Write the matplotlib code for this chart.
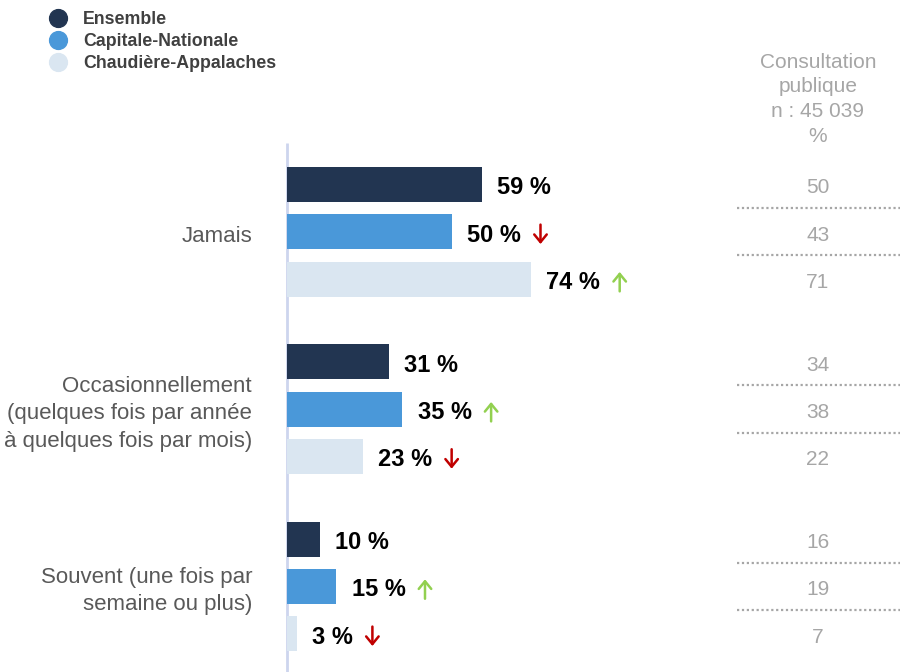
import matplotlib
matplotlib.use("Agg")
import matplotlib.pyplot as plt
from matplotlib.text import OffsetFrom

plt.rcParams['font.family'] = ['Liberation Sans', 'DejaVu Sans']

categories = [
    "Jamais",
    "Occasionnellement\n(quelques fois par année\nà quelques fois par mois)",
    "Souvent (une fois par\nsemaine ou plus)",
]
series = ["Ensemble", "Capitale-Nationale", "Chaudière-Appalaches"]
values = [
    [59, 50, 74],
    [31, 35, 23],
    [10, 15, 3],
]
# +1 = significantly higher, -1 = significantly lower, 0 = no marker
trend = [
    [0, -1, 1],
    [0, 1, -1],
    [0, 1, -1],
]
consultation = [
    [50, 43, 71],
    [34, 38, 22],
    [16, 19, 7],
]
consultation_title = "Consultation\npublique\nn : 45 039\n%"

colors = ["#223551", "#4a98d9", "#dae6f1"]
up_color = "#92d050"
down_color = "#c00000"

fig = plt.figure(figsize=(9, 6.72), dpi=100)
ax = fig.add_axes([0, 0, 1, 1])
ax.set_xlim(-86.97, 185.76)
ax.set_ylim(10.31, -3.90)
ax.axis("off")

group_step = 3.75
bar_h = 0.74
txt_dy = 0.07  # small downward nudge so text sits on the bar centre

ax.plot([0, 0], [-0.88, 10.31], color="#cdd5ee", lw=2, solid_capstyle="butt", zorder=1)

for g, cat in enumerate(categories):
    base = g * group_step
    for i in range(3):
        y = base + i
        v = values[g][i]
        ax.barh(y, v, height=bar_h, color=colors[i], left=0, zorder=2)
        txt = ax.text(v + 4.6, y + txt_dy, f"{v} %", ha="left", va="center",
                      fontsize=17, fontweight="bold", color="black")
        if trend[g][i] != 0:
            col = up_color if trend[g][i] > 0 else down_color
            ref = OffsetFrom(txt, (1, 0.5), unit="points")
            top, bottom = (7.5, -6.5)
            tail, head = (top, bottom) if trend[g][i] < 0 else (bottom, top)
            ax.annotate("", xy=(14, head), xycoords=ref,
                        xytext=(14, tail), textcoords=ref,
                        arrowprops=dict(arrowstyle="->,head_length=0.55,head_width=0.45",
                                        color=col, lw=1.8, shrinkA=0, shrinkB=0,
                                        mutation_scale=10))
        # consultation column
        ax.text(160.9, y + txt_dy, str(consultation[g][i]), ha="center", va="center",
                fontsize=15, color="#a6a6a6")
        if i < 2:
            ax.plot([136.4, 185.8], [y + 0.5, y + 0.5], color="#a6a6a6",
                    lw=1.6, ls=(0, (1, 1.2)))
    ax.text(-10.6, base + 1 + 0.1, cat, ha="right", va="center", fontsize=16,
            color="#595959", linespacing=1.39)

ax.text(160.9, -1.8, consultation_title, ha="center", va="center",
        fontsize=15, color="#a6a6a6", linespacing=1.38)

# legend
for k, name in enumerate(series):
    yy = 1 - (18 + 22 * k) / 672
    ax.scatter([58 / 900], [yy], s=165, color=colors[k], transform=ax.transAxes,
               clip_on=False, zorder=3)
    ax.text(83 / 900, yy - 2 / 672, name, transform=ax.transAxes, ha="left",
            va="center", fontsize=12.8, fontweight="bold", color="#404040")

fig.savefig("out.png", dpi=100)
